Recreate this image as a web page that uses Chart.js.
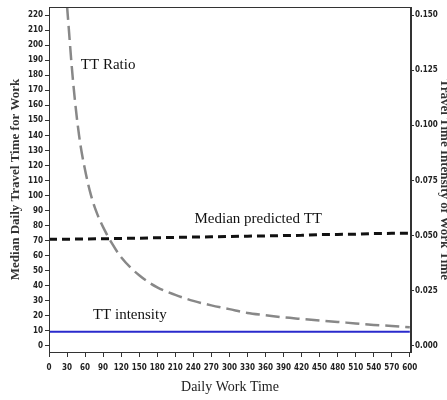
<!DOCTYPE html>
<html>
<head>
<meta charset="utf-8">
<script src="https://cdn.jsdelivr.net/npm/chart.js@4/dist/chart.umd.min.js"></script>
<style>
  html, body { margin: 0; padding: 0; background: #fff; }
  #wrap { width: 447px; height: 400px; }
</style>
</head>
<body>
<div id="wrap"><canvas id="chart" width="447" height="400"></canvas></div>
<script>
// data
var workTime = [0,30,60,90,120,150,180,210,240,270,300,330,360,390,420,450,480,510,540,570,600];
var medianTT = [71,71,71.2,71.3,71.5,71.7,72,72.2,72.4,72.6,72.8,73,73.2,73.4,73.6,74.1,74.2,74.3,74.8,74.9,75];
var ratioTime = [30,40,50,60,70,80,90,105,120,150,180,210,240,270,300,330,360,390,420,450,480,510,540,570,600];
var ttRatio = [226,176,140,117,100,88,79,68,59,47,39,34,30,27,24.5,22,20.5,19,18,17,16,15,14,13.3,12.5];
var ttIntensity = [0.0065,0.0065,0.0065,0.0065,0.0065,0.0065,0.0065,0.0065,0.0065,0.0065,0.0065,0.0065,0.0065,0.0065,0.0065,0.0065,0.0065,0.0065,0.0065,0.0065,0.0065];
var leftTicks = [0,10,20,30,40,50,60,70,80,90,100,110,120,130,140,150,160,170,180,190,200,210,220];
var rightTicks = [0,0.025,0.05,0.075,0.1,0.125,0.15];
var xTicks = workTime;

// curve labels [text, x, y] in left-axis data units
var notes = [
  ['TT Ratio', 53, 187],
  ['Median predicted TT', 242, 84.4],
  ['TT intensity', 73, 20.6]
];

function pts(xs, ys) {
  return xs.map(function(x, i) { return {x: x, y: ys[i]}; });
}

var tickFont = {family: '"DejaVu Sans Condensed"', size: 8, weight: 'bold'};
var serif = '"Liberation Serif", "DejaVu Serif", serif';
var scaleK = 220 / 0.15;

const framePlugin = {
  id: 'frame',
  afterDatasetsDraw(chart) {
    const a = chart.chartArea, c = chart.ctx;
    c.save();
    c.strokeStyle = '#333';
    c.lineWidth = 1;
    c.strokeRect(a.left + 0.5, a.top + 0.5, a.right - a.left - 1, a.bottom - a.top);
    c.font = '15px ' + serif;
    c.fillStyle = '#111';
    c.textBaseline = 'middle';
    notes.forEach(function(n) {
      c.fillText(n[0], chart.scales.x.getPixelForValue(n[1]), chart.scales.y.getPixelForValue(n[2]));
    });
    c.restore();
  }
};

const config = {
  type: 'line',
  data: {
    datasets: [
      {
        label: 'Median predicted TT',
        data: pts(workTime, medianTT),
        borderColor: '#111',
        borderWidth: 3,
        borderDash: [8, 5],
        pointRadius: 0,
        yAxisID: 'y'
      },
      {
        label: 'TT Ratio',
        data: pts(ratioTime, ttRatio),
        borderColor: '#888',
        borderWidth: 2.5,
        borderDash: [14, 6],
        pointRadius: 0,
        cubicInterpolationMode: 'monotone',
        yAxisID: 'y'
      },
      {
        label: 'TT intensity',
        data: pts(workTime, ttIntensity),
        borderColor: '#2a2acc',
        borderWidth: 2,
        pointRadius: 0,
        yAxisID: 'y2'
      }
    ]
  },
  options: {
    responsive: false,
    animation: false,
    layout: { padding: { top: 7, left: 0, right: 0, bottom: 0 } },
    plugins: {
      legend: { display: false },
      tooltip: { enabled: false }
    },
    scales: {
      x: {
        type: 'linear',
        min: 0,
        max: 602,
        afterBuildTicks: function(s) { s.ticks = xTicks.map(function(v) { return {value: v}; }); },
        afterFit: function(s) { s.height = 48; },
        grid: { drawOnChartArea: false, tickLength: 5, tickColor: '#333' },
        border: { color: '#333' },
        ticks: { font: tickFont, color: '#222', padding: 6, maxRotation: 0, autoSkip: false },
        title: { display: true, text: 'Daily Work Time', font: {family: serif, size: 14}, color: '#222', padding: {top: 7} }
      },
      y: {
        position: 'left',
        min: -4,
        max: 225.4,
        afterBuildTicks: function(s) { s.ticks = leftTicks.map(function(v) { return {value: v}; }); },
        afterFit: function(s) { s.width = 49; },
        grid: { drawOnChartArea: false, tickLength: 4, tickColor: '#333' },
        border: { color: '#333' },
        ticks: { font: tickFont, color: '#222', padding: 2, autoSkip: false },
        title: { display: true, text: 'Median Daily Travel Time for Work', font: {family: serif, size: 13, weight: 'bold'}, color: '#333', padding: {top: 8, bottom: 0} }
      },
      y2: {
        position: 'right',
        min: -4 / scaleK,
        max: 225.4 / scaleK,
        afterBuildTicks: function(s) { s.ticks = rightTicks.map(function(v) { return {value: v}; }); },
        afterFit: function(s) { s.width = 36; },
        grid: { drawOnChartArea: false, tickLength: 3, tickColor: '#333' },
        border: { color: '#333' },
        ticks: { font: tickFont, color: '#222', padding: 1, autoSkip: false,
          callback: function(v) { return v.toFixed(3); } },
        title: { display: true, text: 'Travel Time Intensity of Work Time', font: {family: serif, size: 13, weight: 'bold'}, color: '#333', padding: {top: -5, bottom: 0} }
      }
    }
  },
  plugins: [framePlugin]
};

const myChart = new Chart(document.querySelector('#chart').getContext('2d'), config);
</script>
</body>
</html>
